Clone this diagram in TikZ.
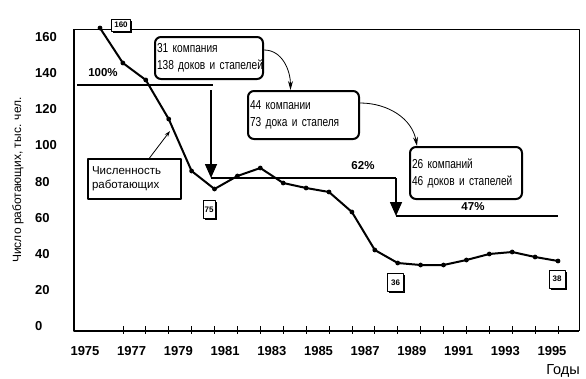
\documentclass[tikz,border=0pt]{standalone}
\usepackage{fontspec}
\setmainfont{Liberation Sans}
\newfontfamily\narrowfont[FakeStretch=0.78]{Liberation Sans}
\usepackage{tikz}
\usetikzlibrary{arrows.meta,shadows}

\begin{document}
\begin{tikzpicture}[x=1pt,y=1pt,line join=round]
\tikzstyle{axis line}=[line width=1.6pt]
\tikzstyle{frame line}=[line width=0.7pt]
\tikzstyle{data line}=[line width=2pt]
\tikzstyle{level line}=[line width=1.6pt]
\tikzstyle{drop}=[-{Triangle[length=14pt,width=12pt]},line width=1.6pt]
\tikzstyle{curve}=[-{Stealth[length=9pt,width=5pt]},line width=0.8pt]
\tikzstyle{tick label}=[font=\fontsize{13}{15}\selectfont\bfseries]
\tikzstyle{pct}=[font=\fontsize{11.5}{13}\selectfont\bfseries]
\tikzstyle{company}=[draw,rounded corners=6pt,line width=2pt,align=left,inner xsep=2pt,
                     font=\narrowfont\fontsize{13}{17}\selectfont]
\tikzstyle{tag}=[draw,fill=white,line width=0.8pt,inner sep=1pt,minimum width=16pt,minimum height=18pt,
                 font=\fontsize{8}{8}\selectfont\bfseries,
                 drop shadow={shadow xshift=1.5pt,shadow yshift=-1.5pt,fill=black,opacity=1}]
\tikzstyle{solid point}=[circle,fill=black,inner sep=1.7pt]

\useasboundingbox (0,0) rectangle (586,-378);

% axes and frame
\draw[axis line] (74,-29) -- (74,-331) -- (579,-331);
\draw[frame line] (74,-29) -- (579,-29) -- (579,-331);
\foreach \i in {1,...,20}
    \draw[line width=0.7pt] ({100+22.9*\i},-326) -- ++(0,-8);
\foreach \yr [count=\k from 0] in {1975,1977,...,1995}
    \node[tick label] (yr\yr) at ({85+46.7*\k},-351) {\yr};
\foreach \v [count=\k from 0] in {0,20,...,160}
    \node[tick label,anchor=west,inner xsep=0] (val\v) at (35,{-326+36.1*\k}) {\v};
\node[rotate=90,font=\fontsize{12}{14}\selectfont] (ytitle) at (18,-180) {Число работающих, тыс. чел.};
\node[font=\fontsize{14.5}{16}\selectfont] (xtitle) at (563,-371) {Годы};

% workers curve
\foreach \y [count=\i from 0] in {28,63,80,119,171,189,176,168,183,188,192,212,250,263,265,265,260,254,252,257,261}
    \coordinate (p\i) at ({100+22.9*\i},-\y);
\draw[data line] (p0) \foreach \i in {1,...,20} {-- (p\i)};
\foreach \i in {0,...,20}
    \node[solid point] (d\i) at (p\i) {};

% levels
\coordinate (a1) at (77,-85);
\coordinate (a2) at (213,-85);
\coordinate (b1) at (211,-90);
\coordinate (b2) at (211,-178);
\coordinate (b3) at (396,-178);
\coordinate (c1) at (396,-216);
\coordinate (c2) at (558,-216);
\draw[level line] (a1) -- (a2);
\draw[drop] (b1) -- (b2);
\draw[level line] (b2) -- (b3);
\draw[drop] (b3) -- (c1);
\draw[level line] (c1) -- (c2);
\node[pct] (pc100) at (103,-73) {100\%};
\node[pct] (pc62) at (363,-166) {62\%};
\node[pct] (pc47) at (473,-207) {47\%};

% companies
\node[company,text width=104pt,minimum height=42pt] (comp1) at (209,-58) {31~компания\\138~доков~и~стапелей};
\node[company,text width=107pt,minimum height=48pt] (comp2) at (303.5,-115) {44~компании\\73~дока~и~стапеля};
\node[company,text width=108pt,minimum height=52pt] (comp3) at (466,-173) {26~компаний\\46~доков~и~стапелей};
\draw[curve] ([yshift=8pt]comp1.east) to[out=0,in=90] ([xshift=-13pt]comp2.north);
\draw[curve] ([yshift=12pt]comp2.east) to[out=0,in=100] ([xshift=-49pt]comp3.north);

% workers label
\node[draw,line width=2pt,align=left,inner xsep=4pt,text width=85pt,minimum height=40pt,
      font=\fontsize{11.5}{14}\selectfont] (work) at (134.5,-179) {Численность\\работающих};
\coordinate (hint) at (170,-131);
\draw[-{Stealth[length=6pt,width=4pt]},line width=0.8pt] ([xshift=15pt]work.north) -- (hint);

% values
\node[tag,minimum height=12pt,minimum width=19pt] (t160) at (121,-25) {160};
\node[tag,minimum width=12pt] (t75) at (209,-209.5) {75};
\node[tag] (t36) at (395.5,-282.5) {36};
\node[tag] (t38) at (557,-279) {38};
\end{tikzpicture}
\end{document}
